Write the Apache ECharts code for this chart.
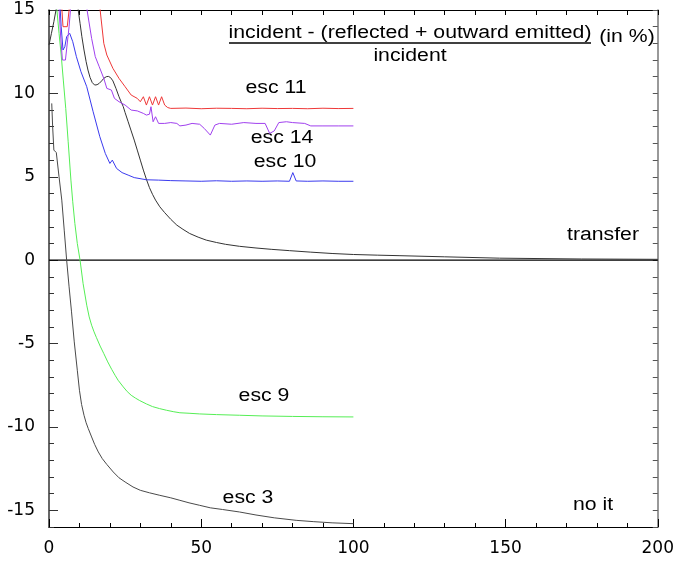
<!DOCTYPE html>
<html>
<head>
<meta charset="utf-8">
<script src="https://cdn.jsdelivr.net/npm/echarts@6/dist/echarts.min.js"></script>
<style>html,body{margin:0;padding:0;background:#fff}#c{width:677px;height:562px}</style>
</head>
<body>
<div id="c"></div>
<script>
// ---- data (x = iteration, y = percent) ----
const xTickLabels = [0, 50, 100, 150, 200];
const yTickLabels = [-15, -10, -5, 0, 5, 10, 15];

const esc11 = [[3.9,16],[4.6,14.0],[6.0,14.0],[7.2,16],[16,17],[16.8,15],[18,13.0],[19,12.3],[21,11.5],[23,10.9],[25,10.4],[27,9.9],[29,9.7],[30,9.5],[31,9.8],[32,9.3],[33,9.8],[34,9.3],[35,9.8],[36,9.3],[37,9.8],[38,9.3],[39,9.15],[40,9.1],[45,9.12],[50,9.08],[55,9.11],[60,9.1],[65,9.08],[70,9.11],[75,9.09],[80,9.1],[85,9.08],[90,9.11],[95,9.09],[100,9.1]];

const esc14 = [[3.0,16],[3.8,13.5],[4.4,12.0],[5.4,12.0],[6.6,14.0],[7.5,16],[12,17],[12.5,15],[14,13.3],[15.2,12.2],[16.5,11.6],[18,10.9],[19,10.3],[20.5,10.2],[21.5,9.7],[23,9.5],[25,9.3],[27,9.0],[29,8.95],[31,8.8],[32,8.7],[33,8.75],[33.5,9.2],[34.2,8.3],[35,8.6],[36,8.2],[38,8.2],[40,8.25],[42,8.2],[43,8.05],[45,8.1],[47,8.2],[49.5,8.15],[51,7.9],[53,7.5],[54.5,8.1],[56,8.2],[60,8.15],[64,8.25],[68,8.2],[71,8.2],[72.5,7.6],[74,7.75],[75.5,8.25],[78,8.3],[80,8.25],[84,8.2],[86,8.05],[90,8.05],[95,8.05],[100,8.05]];

const esc10 = [[3.4,16],[4.0,14.0],[4.6,12.6],[5.2,12.8],[5.8,13.4],[6.8,13.6],[7.8,13.1],[9,12.2],[10.5,11.3],[12.4,10.4],[14.5,8.9],[16.7,7.4],[18.5,6.4],[20,5.8],[20.8,6.0],[21.3,5.9],[22.2,5.5],[24,5.25],[26,5.1],[28,4.95],[32,4.82],[36,4.8],[40,4.77],[45,4.75],[50,4.73],[55,4.76],[60,4.73],[65,4.75],[70,4.73],[75,4.75],[79,4.73],[80.1,5.25],[81.2,4.75],[85,4.73],[90,4.75],[95,4.73],[100,4.73]];

const transfer = [[0,12.9],[0.8,13.6],[1.6,14.3],[2.6,15.3],[3.5,16.5],[8.5,16.5],[9.6,15],[10.2,14.2],[10.8,13.4],[11.5,12.6],[12.2,11.9],[12.8,11.4],[13.5,10.95],[14.2,10.65],[15,10.5],[15.8,10.52],[16.5,10.6],[17.3,10.75],[18,10.9],[18.8,11.0],[19.5,11.02],[20.2,10.95],[21,10.75],[22,10.3],[23,9.8],[23.8,9.45],[24.4,9.2],[25,8.85],[26,8.3],[27,7.75],[28,7.2],[29,6.6],[30,6.0],[31,5.4],[32,4.85],[33,4.35],[34,3.95],[35,3.6],[36.4,3.2],[38,2.85],[40,2.45],[42,2.1],[44,1.85],[46.2,1.6],[49,1.38],[51.7,1.2],[55,1.06],[58,0.95],[62.6,0.83],[68,0.73],[73,0.65],[79,0.57],[86,0.48],[93,0.4],[100,0.34],[108,0.3],[115,0.27],[130,0.2],[148,0.12],[175,0.07],[200,0.05]];

const esc9 = [[2.0,16.3],[2.6,15],[3.3,13.6],[4,12.3],[4.7,10.8],[5.5,9.1],[6.3,7.1],[7.2,4.8],[7.8,3.5],[8.5,2.2],[9.3,1.0],[10.2,0],[11.2,-1.4],[12.4,-2.7],[13.2,-3.4],[14,-3.9],[14.8,-4.3],[15.6,-4.65],[16.8,-5.15],[18,-5.6],[19.3,-6.1],[20.6,-6.55],[21.7,-6.9],[22.7,-7.2],[24.4,-7.6],[25.7,-7.88],[27,-8.1],[28.4,-8.27],[29.8,-8.42],[32,-8.62],[34,-8.78],[36.3,-8.9],[38.6,-9.0],[41,-9.09],[43,-9.15],[46,-9.18],[49.5,-9.22],[55,-9.26],[62.6,-9.3],[70,-9.34],[80,-9.37],[90,-9.39],[100,-9.4]];

const esc3 = [[0.9,9.4],[1.2,8.0],[1.6,6.6],[2.0,6.5],[2.4,6.45],[3.3,5.0],[4.2,3.6],[5.0,1.8],[5.8,0],[6.6,-1.6],[7.4,-3.1],[8.3,-4.9],[9.3,-6.6],[10,-7.8],[10.7,-8.65],[11.5,-9.3],[12.2,-9.75],[12.9,-10.1],[14,-10.6],[15,-11.05],[16.2,-11.5],[17.5,-11.9],[19,-12.25],[21.1,-12.7],[23,-13.05],[25,-13.3],[27.6,-13.6],[30,-13.8],[33,-13.95],[36.4,-14.1],[40,-14.25],[43,-14.4],[46,-14.55],[49.5,-14.7],[53,-14.85],[57,-14.95],[62.6,-15.1],[68,-15.28],[74,-15.45],[81.2,-15.6],[87,-15.68],[93,-15.75],[100,-15.8]];

const zeroLine = [[0,0],[200,0]];

// ---- chart ----
const chart = echarts.init(document.getElementById('c'), null, {renderer:'canvas'});
const tickFont = {fontFamily:'DejaVu Sans', fontSize:17, color:'#000'};
const majorY = yTickLabels;

function line(name, data, color, w) {
  return {name, type:'line', data, showSymbol:false, symbol:'none', clip:true,
    lineStyle:{color, width:w||1}, itemStyle:{color}, animation:false, z:3};
}

function txt(text, x, y, sx, opts) {
  return Object.assign({type:'text', x, y, scaleX:sx||1.18, scaleY:1,
    style:{text, x:0, y:0, fill:'#000', font:'18px "Liberation Sans"', align:'center', verticalAlign:'middle'}}, opts||{});
}

chart.setOption({
  animation:false,
  backgroundColor:'#fff',
  grid:{left:49, right:18, top:10, bottom:35, containLabel:false},
  xAxis:[
    {type:'value', min:0, max:200, interval:50, position:'bottom',
     axisLine:{show:true, onZero:false, lineStyle:{color:'#000', width:1.2}},
     axisTick:{show:true, inside:true, length:8, lineStyle:{color:'#000'}},
     minorTick:{show:true, splitNumber:5, length:4, lineStyle:{color:'#000'}},
     axisLabel:Object.assign({margin:13, customValues:xTickLabels}, tickFont),
     splitLine:{show:false}},
    {type:'value', min:0, max:200, interval:10, position:'top',
     axisLine:{show:true, onZero:false, lineStyle:{color:'#000', width:1.2}},
     axisTick:{show:true, inside:true, length:5, lineStyle:{color:'#000'}},
     axisLabel:{show:false}, splitLine:{show:false}}
  ],
  yAxis:[
    {type:'value', min:-16, max:15, interval:1, position:'left',
     axisLine:{show:true, onZero:false, lineStyle:{color:'#333', width:1.5}},
     axisTick:{show:true, inside:true, length:5, lineStyle:{color:'#333'}},
     axisLabel:Object.assign({margin:14, customValues:yTickLabels}, tickFont),
     splitLine:{show:false}},
    {type:'value', min:-16, max:15, position:'left',
     axisLine:{show:false, onZero:false},
     axisTick:{show:true, inside:true, length:9, customValues:majorY, lineStyle:{color:'#333'}},
     axisLabel:{show:false}, splitLine:{show:false}},
    {type:'value', min:-16, max:15, interval:1, position:'right',
     axisLine:{show:true, onZero:false, lineStyle:{color:'#777', width:1.5}},
     axisTick:{show:true, inside:true, length:5, lineStyle:{color:'#555'}},
     axisLabel:{show:false}, splitLine:{show:false}}
  ],
  series:[
    line('zero', zeroLine, '#000', 1.2),
    line('esc 3', esc3, '#4a4a4a'),
    line('esc 9', esc9, '#55ee55'),
    line('transfer', transfer, '#333333'),
    line('esc 10', esc10, '#3a3aee'),
    line('esc 14', esc14, '#a040ee'),
    line('esc 11', esc11, '#ee3838')
  ],
  graphic:[
    txt('incident - (reflected + outward emitted)', 410, 33),
    {type:'line', shape:{x1:229, y1:43, x2:591, y2:43}, style:{stroke:'#000', lineWidth:1.5}},
    txt('incident', 410, 56),
    txt('(in %)', 627, 37),
    txt('esc 11', 276, 88),
    txt('esc 14', 282, 138),
    txt('esc 10', 285, 162),
    txt('transfer', 603, 235),
    txt('esc 9', 264, 396),
    txt('esc 3', 248, 498),
    txt('no it', 593, 505)
  ]
});
</script>
</body>
</html>
